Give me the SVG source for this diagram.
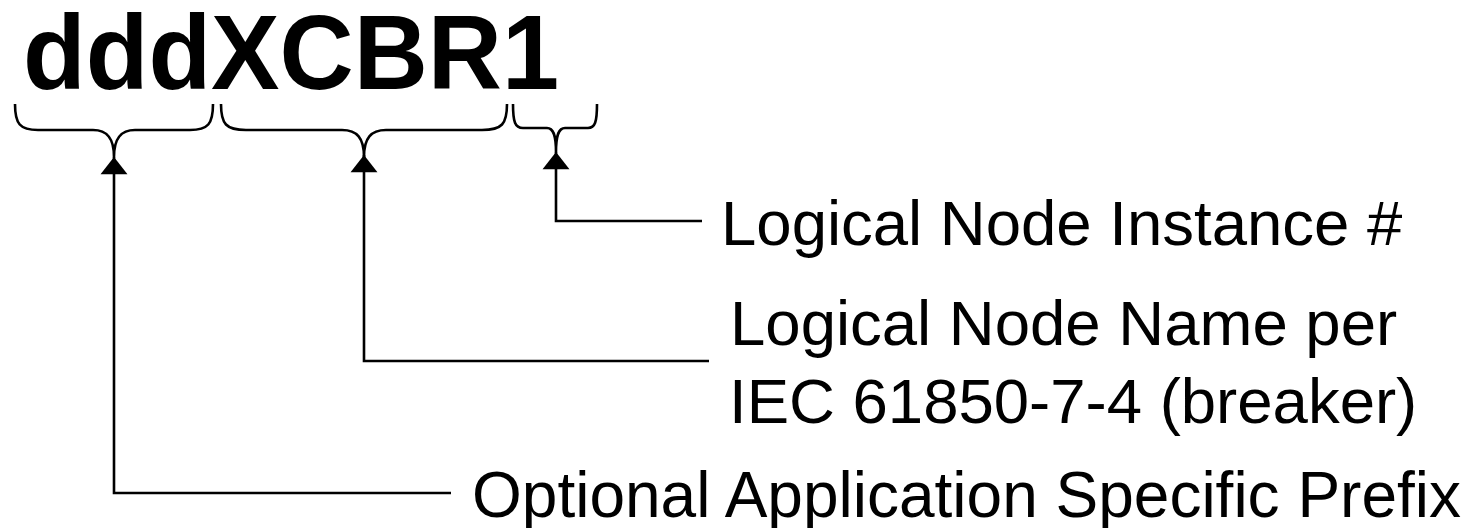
<svg xmlns="http://www.w3.org/2000/svg" width="1474" height="528" viewBox="0 0 1474 528">
<style>
  .lbl { font-family: "Liberation Sans", Arial, sans-serif; font-size: 63.5px; fill: #000; }
  .title { font-family: "Liberation Sans", Arial, sans-serif; font-size: 106px; font-weight: bold; fill: #000; }
  .brace { fill: none; stroke: #000; stroke-width: 2.6; stroke-linejoin: round; }
  .conn { fill: none; stroke: #000; stroke-width: 2.6; marker-start: url(#arrow); }
</style>
<defs>
  <marker id="arrow" markerUnits="userSpaceOnUse" markerWidth="20" markerHeight="28" viewBox="0 -13 17 26" refX="16" refY="0" orient="auto-start-reverse">
    <path d="M0,-12.5 L16,0 L0,12.5 Z" fill="#000"/>
  </marker>
</defs>
<rect width="1474" height="528" fill="#fff"/>
<g id="title">
  <text class="title" x="23" y="89" textLength="536" lengthAdjust="spacingAndGlyphs">dddXCBR1</text>
</g>
<g id="braces">
  <path id="brace-prefix" class="brace" d="M15,104 C15,124 20,130 38,130 H93 C107,130 114,138 114,157 C114,138 121,130 135,130 H190 C208,130 213,124 213,104"/>
  <path id="brace-name" class="brace" d="M221,104 C221,124 226,130 246,130 H342 C357,130 364,138 364,157 C364,138 371,130 386,130 H482 C502,130 507,124 507,104"/>
  <path id="brace-inst" class="brace" d="M513,104 C513,122 515,128 523,128 H547 C553,128 556,134 556,152 C556,134 559,128 565,128 H588 C595,128 597,122 597,104"/>
</g>
<g id="connectors">
  <polyline class="conn" points="114,157 114,493 451,493"/>
  <polyline class="conn" points="364,155 364,361 709,361"/>
  <polyline class="conn" points="556,152 556,221 702,221"/>
</g>
<g id="node-instance">
  <text class="lbl" x="721" y="245">Logical Node Instance #</text>
</g>
<g id="node-name">
  <text class="lbl" x="730" y="345">Logical Node Name per</text>
  <text class="lbl" x="729" y="423">IEC 61850-7-4 (breaker)</text>
</g>
<g id="node-prefix">
  <text class="lbl" x="472" y="517" style="font-size:64px">Optional Application Specific Prefix</text>
</g>
</svg>
